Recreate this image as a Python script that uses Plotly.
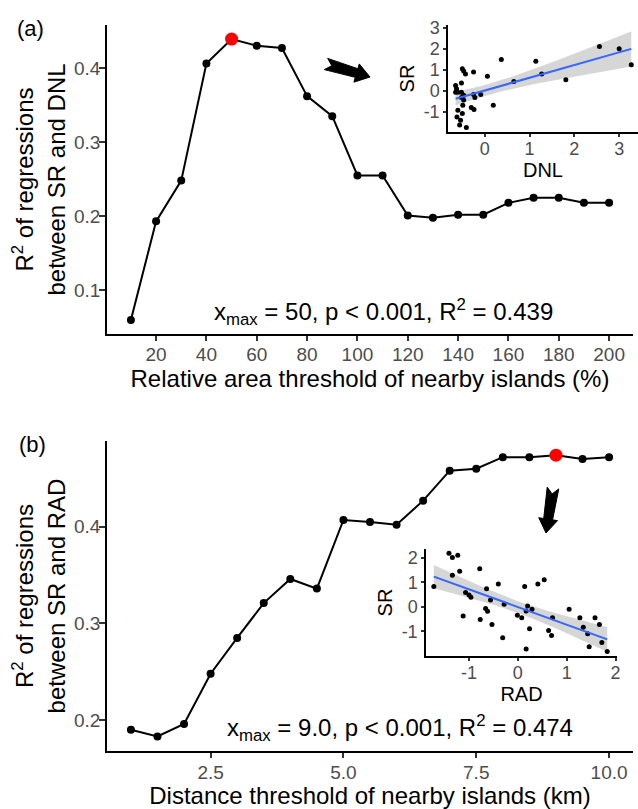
import numpy as np
import plotly.graph_objects as go

W, H = 638, 809
FONT = "Liberation Sans, Arial, sans-serif"
TICK_GREY = "#4d4d4d"

# ---------------- data: panel (a)
area_threshold = [10, 20, 30, 40, 50, 60, 70, 80, 90, 100, 110, 120, 130, 140, 150, 160, 170, 180, 190, 200]
r2_sr_dnl = [0.060, 0.193, 0.248, 0.406, 0.439, 0.430, 0.427, 0.362, 0.335, 0.255, 0.255,
             0.201, 0.198, 0.202, 0.202, 0.218, 0.225, 0.225, 0.218, 0.218]
area_ticks = [20, 40, 60, 80, 100, 120, 140, 160, 180, 200]
r2_ticks_a = [0.1, 0.2, 0.3, 0.4]

# inset (a): SR vs DNL at x_max = 50
dnl = [-0.65, -0.63, -0.52, -0.65, -0.60, -0.52, -0.50, -0.47, -0.43, -0.25, -0.52, -0.47,
       -0.49, -0.25, -0.22, -0.30, -0.24, -0.60, -0.62, -0.50, -0.54, -0.56, -0.41, -0.09,
       0.06, 0.19, 0.37, 0.65, 1.14, 1.27, 1.81, 2.56, 3.00, 3.27, -0.47]
sr_a = [0.27, 0.11, 0.38, -0.05, -0.05, -0.05, 1.06, 0.96, 0.82, 0.91, -0.31, -0.43,
        -0.67, -0.16, -0.31, -0.78, -0.88, -0.91, -1.23, -1.07, -1.39, -1.62, -1.73, -0.16,
        0.71, -0.68, 1.50, 0.46, 1.42, 0.82, 0.54, 2.12, 2.02, 1.26, -0.20]
dnl_ticks = [0, 1, 2, 3]
sr_ticks_a = [-1, 0, 1, 2, 3]

# ---------------- data: panel (b)
distance_threshold = [1.0, 1.5, 2.0, 2.5, 3.0, 3.5, 4.0, 4.5, 5.0, 5.5, 6.0, 6.5, 7.0, 7.5,
                      8.0, 8.5, 9.0, 9.5, 10.0]
r2_sr_rad = [0.190, 0.183, 0.196, 0.248, 0.285, 0.321, 0.346, 0.336, 0.407, 0.405, 0.402,
             0.427, 0.458, 0.460, 0.472, 0.472, 0.474, 0.470, 0.472]
dist_ticks = [2.5, 5.0, 7.5, 10.0]
r2_ticks_b = [0.2, 0.3, 0.4]

# inset (b): SR vs RAD at x_max = 9.0
rad = [-1.72, -1.41, -1.34, -1.23, -1.34, -1.19, -1.07, -1.00, -0.96, -1.12, -0.78, -0.64,
       -0.56, -0.66, -0.62, -0.77, -0.53, -0.40, -0.28, -0.31, -0.01, 0.08, 0.14, 0.17,
       0.20, 0.29, 0.24, 0.17, 0.41, 0.54, 0.63, 0.69, 0.71, 1.05, 1.27, 1.34, 1.43, 1.46,
       1.58, 1.67, 1.72, 1.83]
sr_b = [0.83, 2.18, 2.00, 2.10, 1.28, 1.45, 0.58, 0.48, 0.39, -0.37, 1.55, 0.73,
        0.28, -0.07, -0.18, -0.52, -0.72, 0.93, 0.10, -1.26, -0.34, -0.44, 0.83, -0.17,
        0.03, -0.10, -0.89, -1.72, 0.93, 1.10, -0.96, -1.17, -0.44, -0.10, -0.44, -0.83,
        -1.10, -1.62, -0.44, -0.72, -1.45, -1.82]
rad_ticks = [-1, 0, 1, 2]
sr_ticks_b = [-1, 0, 1, 2]


def lm_band(x, y, t=2.02, n_grid=80):
    """Linear fit with 95% confidence band (like geom_smooth(method='lm'))."""
    x = np.asarray(x, float)
    y = np.asarray(y, float)
    b1, b0 = np.polyfit(x, y, 1)
    grid = np.linspace(x.min(), x.max(), n_grid)
    fit = b0 + b1 * grid
    resid = y - (b0 + b1 * x)
    n = len(x)
    s = np.sqrt(np.sum(resid ** 2) / (n - 2))
    sxx = np.sum((x - x.mean()) ** 2)
    se = s * np.sqrt(1.0 / n + (grid - x.mean()) ** 2 / sxx)
    return grid, fit, fit - t * se, fit + t * se


def px(x):
    return x / W


def py(y):
    return 1 - y / H


fig = go.Figure()


def main_panel(xs, ys, xa, ya):
    fig.add_trace(go.Scatter(x=xs, y=ys, mode="lines+markers", xaxis=xa, yaxis=ya,
                             line=dict(color="black", width=2),
                             marker=dict(color="black", size=8), showlegend=False))
    i = int(np.argmax(ys))
    fig.add_trace(go.Scatter(x=[xs[i]], y=[ys[i]], mode="markers", xaxis=xa, yaxis=ya,
                             marker=dict(color="#ff0000", size=13), showlegend=False))


def inset_panel(xs, ys, xa, ya):
    g, f, lo, hi = lm_band(xs, ys)
    fig.add_trace(go.Scatter(x=list(g) + list(g[::-1]), y=list(hi) + list(lo[::-1]),
                             fill="toself", fillcolor="rgba(153,153,153,0.4)",
                             line=dict(width=0), mode="lines", xaxis=xa, yaxis=ya,
                             showlegend=False, hoverinfo="skip"))
    fig.add_trace(go.Scatter(x=xs, y=ys, mode="markers", xaxis=xa, yaxis=ya,
                             marker=dict(color="black", size=5), showlegend=False))
    fig.add_trace(go.Scatter(x=g, y=f, mode="lines", xaxis=xa, yaxis=ya,
                             line=dict(color="#3366FF", width=2), showlegend=False))


main_panel(area_threshold, r2_sr_dnl, "x", "y")
inset_panel(dnl, sr_a, "x2", "y2")
main_panel(distance_threshold, r2_sr_rad, "x3", "y3")
inset_panel(rad, sr_b, "x4", "y4")

axis_common = dict(showline=True, linecolor="black", linewidth=1.5, ticks="outside",
                   tickcolor="#333333", tickwidth=1.5, showgrid=False, zeroline=False,
                   automargin=False, fixedrange=True)

main_tick = dict(size=19, color=TICK_GREY, family=FONT)
main_title = dict(size=24, color="black", family=FONT)
ins_tick = dict(size=18, color=TICK_GREY, family=FONT)
ins_title = dict(size=20, color="black", family=FONT)

fig.update_layout(
    width=W, height=H, margin=dict(l=0, r=0, t=0, b=0),
    paper_bgcolor="white", plot_bgcolor="rgba(0,0,0,0)",
    font=dict(family=FONT, color="black"),
    template="none",
    # panel (a)
    xaxis=dict(domain=[px(107), px(633)], range=[0.5, 209.5], anchor="y",
               tickvals=area_ticks, ticktext=[str(v) for v in area_ticks], ticklen=5,
               ticklabelstandoff=-3, tickfont=main_tick,
               title=dict(text="Relative area threshold of nearby islands (%)", font=main_title, standoff=0),
               **axis_common),
    yaxis=dict(domain=[py(334), py(25)], range=[0.041, 0.458], anchor="x",
               tickvals=r2_ticks_a, ticktext=[f"{v:.1f}" for v in r2_ticks_a], ticklen=6,
               ticklabelstandoff=-5, tickfont=main_tick,
               title=dict(text="R<sup>2</sup> of regressions<br>between SR and DNL", font=main_title, standoff=2),
               **axis_common),
    # inset (a)
    xaxis2=dict(domain=[px(448), 1.0], range=[-0.82, 3.42], anchor="y2",
                tickvals=dnl_ticks, ticktext=[str(v) for v in dnl_ticks], ticklen=3,
                ticklabelstandoff=-3, tickfont=ins_tick,
                title=dict(text="DNL", font=ins_title, standoff=2),
                **axis_common),
    yaxis2=dict(domain=[py(132), py(25)], range=[-1.95, 3.15], anchor="x2",
                tickvals=sr_ticks_a, ticktext=[str(v) for v in sr_ticks_a], ticklen=3,
                tickfont=ins_tick, title=dict(text="SR", font=ins_title, standoff=4),
                **axis_common),
    # panel (b)
    xaxis3=dict(domain=[px(107), px(633)], range=[0.55, 10.45], anchor="y3",
                tickvals=dist_ticks, ticktext=[f"{v:.1f}" for v in dist_ticks], ticklen=5,
                ticklabelstandoff=-2, tickfont=main_tick,
                title=dict(text="Distance threshold of nearby islands (km)", font=main_title, standoff=0),
                **axis_common),
    yaxis3=dict(domain=[py(751), py(441)], range=[0.168, 0.4887], anchor="x3",
                tickvals=r2_ticks_b, ticktext=[f"{v:.1f}" for v in r2_ticks_b], ticklen=6,
                ticklabelstandoff=-5, tickfont=main_tick,
                title=dict(text="R<sup>2</sup> of regressions<br>between SR and RAD", font=main_title, standoff=2),
                **axis_common),
    # inset (b)
    xaxis4=dict(domain=[px(426), px(617)], range=[-1.88, 2.03], anchor="y4",
                tickvals=rad_ticks, ticktext=[str(v) for v in rad_ticks], ticklen=3,
                ticklabelstandoff=-3, tickfont=ins_tick,
                title=dict(text="RAD", font=ins_title, standoff=2),
                **axis_common),
    yaxis4=dict(domain=[py(656), py(549)], range=[-2.0, 2.35], anchor="x4",
                tickvals=sr_ticks_b, ticktext=[str(v) for v in sr_ticks_b], ticklen=3,
                tickfont=ins_tick, title=dict(text="SR", font=ins_title, standoff=4),
                **axis_common),
)

ann_common = dict(xref="paper", yref="paper", showarrow=False, xanchor="center", yanchor="middle")

# panel labels and statistics text
fig.add_annotation(text="(a)", x=px(31), y=py(29), font=dict(size=22, family=FONT, color="black"),
                   **ann_common)
fig.add_annotation(text="(b)", x=px(32), y=py(444), font=dict(size=22, family=FONT, color="black"),
                   **ann_common)
fig.add_annotation(text="x<sub>max</sub> = 50, p < 0.001, R<sup>2</sup> = 0.439",
                   x=px(383), y=py(312), font=dict(size=24, family=FONT, color="black"),
                   **ann_common)
fig.add_annotation(text="x<sub>max</sub> = 9.0, p < 0.001, R<sup>2</sup> = 0.474",
                   x=px(400), y=py(728), font=dict(size=24, family=FONT, color="black"),
                   **ann_common)


def block_arrow(tail, tip, shaft_w=9, head_w=19, head_len=14, notch=6):
    t = np.array(tail, float)
    p = np.array(tip, float)
    d = p - t
    L = np.hypot(*d)
    u = d / L
    v = np.array([-u[1], u[0]])
    pts = [t + v * shaft_w / 2 * 1.3,
           t + u * (L - head_len) + v * shaft_w / 2,
           t + u * (L - head_len) + v * head_w / 2,
           p,
           t + u * (L - head_len) - v * head_w / 2,
           t + u * (L - head_len) - v * shaft_w / 2,
           t - v * shaft_w / 2 * 1.3,
           t + u * notch]
    path = "M " + " L ".join(f"{px(q[0]):.5f},{py(q[1]):.5f}" for q in pts) + " Z"
    fig.add_shape(type="path", path=path, xref="paper", yref="paper",
                  fillcolor="black", line=dict(color="black", width=1))


block_arrow((326, 64), (370, 77))
block_arrow((553, 488), (546, 533))

fig.write_html("out.html", config={"displayModeBar": False},
               post_script="document.body.style.margin='0';document.body.style.padding='0';")
